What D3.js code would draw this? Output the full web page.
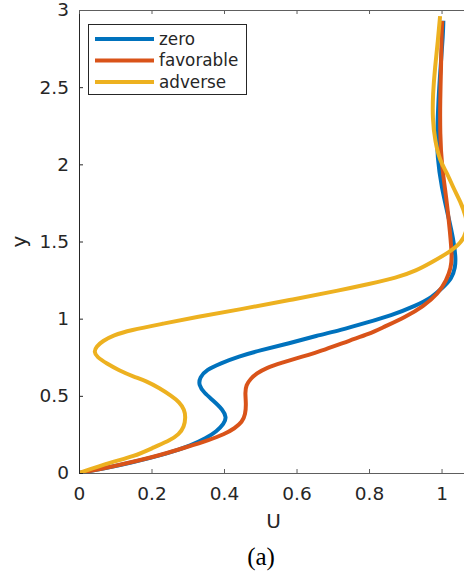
<!DOCTYPE html>
<html>
<head>
<meta charset="utf-8">
<script src="https://cdn.jsdelivr.net/npm/d3@7"></script>
<style>
  html, body { margin: 0; padding: 0; background: #fff; }
  svg { display: block; }
  text { font-family: "DejaVu Sans", sans-serif; fill: #262626; }
</style>
</head>
<body>
<svg id="chart" width="464" height="580"></svg>
<script>
// Velocity profiles U(y) for three pressure-gradient cases, each as [U, y] pairs along the curve
const zeroProfile = [
  [0,0],[0.07,0.03],[0.14,0.065],[0.25,0.13],[0.31,0.18],[0.35,0.225],[0.38,0.27],
  [0.40,0.32],[0.407,0.36],[0.397,0.41],[0.37,0.47],[0.345,0.52],[0.330,0.57],
  [0.333,0.62],[0.352,0.67],[0.39,0.71],[0.44,0.755],[0.5,0.795],[0.58,0.84],
  [0.656,0.89],[0.72,0.925],[0.794,0.975],[0.86,1.02],[0.93,1.085],[0.975,1.14],
  [1.005,1.205],[1.028,1.26],[1.038,1.33],[1.039,1.40],[1.033,1.51],[1.019,1.66],
  [1.0,1.85],[0.988,2.05],[0.988,2.2],[0.991,2.41],[0.998,2.65],[1.004,2.84],[1.005,2.93]
];
const favorableProfile = [
  [0,0],[0.09,0.04],[0.21,0.105],[0.30,0.17],[0.36,0.215],[0.40,0.25],[0.43,0.29],
  [0.45,0.33],[0.459,0.38],[0.461,0.45],[0.458,0.52],[0.461,0.57],[0.473,0.61],
  [0.49,0.645],[0.515,0.68],[0.56,0.715],[0.61,0.75],[0.68,0.80],[0.748,0.86],
  [0.80,0.90],[0.84,0.945],[0.90,1.01],[0.95,1.08],[0.99,1.16],[1.014,1.25],
  [1.026,1.33],[1.029,1.40],[1.024,1.55],[1.014,1.77],[1.0,2.0],[0.996,2.2],
  [0.996,2.41],[0.999,2.65],[1.0,2.84],[1.002,2.93]
];
const adverseProfile = [
  [0,0],[0.09,0.072],[0.15,0.105],[0.21,0.17],[0.25,0.21],[0.276,0.25],[0.290,0.30],
  [0.294,0.36],[0.291,0.41],[0.277,0.46],[0.255,0.50],[0.222,0.55],[0.187,0.595],
  [0.15,0.625],[0.11,0.665],[0.076,0.71],[0.05,0.75],[0.041,0.785],[0.048,0.82],
  [0.065,0.855],[0.095,0.893],[0.14,0.925],[0.233,0.968],[0.325,1.011],[0.444,1.06],
  [0.58,1.12],[0.72,1.184],[0.80,1.225],[0.876,1.265],[0.93,1.31],
  [0.977,1.37],[1.02,1.43],[1.055,1.49],[1.072,1.58],[1.068,1.66],[1.052,1.76],
  [1.032,1.85],[1.014,1.95],[0.996,2.02],[0.982,2.15],[0.975,2.3],[0.976,2.45],
  [0.982,2.63],[0.99,2.8],[0.996,2.96]
];

const seriesNames = ["zero", "favorable", "adverse"];
const seriesColors = ["#0072BD", "#D95319", "#EDB120"];
const seriesData = [zeroProfile, favorableProfile, adverseProfile];

const xTicks = [0, 0.2, 0.4, 0.6, 0.8, 1];
const yTicks = [0, 0.5, 1, 1.5, 2, 2.5, 3];
const xDomain = [0, 1.073];
const yDomain = [0, 3];

const svg = d3.select("#chart");
const plot = { left: 79, right: 468, top: 10, bottom: 473 };

const x = d3.scaleLinear().domain(xDomain).range([plot.left, plot.right]);
const y = d3.scaleLinear().domain(yDomain).range([plot.bottom, plot.top]);

const axisColor = "#262626";
const frameColor = "#5e5e5e";

svg.append("defs").append("clipPath").attr("id", "plot-clip")
  .append("rect")
  .attr("x", plot.left).attr("y", plot.top)
  .attr("width", plot.right - plot.left).attr("height", plot.bottom - plot.top);

// Profiles, smoothed through the sampled points
const line = d3.line()
  .x(d => x(d[0]))
  .y(d => y(d[1]))
  .curve(d3.curveBasis);

const curves = svg.append("g").attr("clip-path", "url(#plot-clip)");
seriesData.forEach((data, i) => {
  curves.append("path")
    .datum(data)
    .attr("d", line)
    .attr("fill", "none")
    .attr("stroke", seriesColors[i])
    .attr("stroke-width", 4)
    .attr("stroke-linejoin", "round");
});

// Axes: ticks point inward, labels on bottom and left only
function styleAxis(color) {
  return g => {
    g.selectAll("path.domain").attr("stroke", color).attr("stroke-width", 1);
    g.selectAll(".tick line").attr("stroke", color).attr("stroke-width", 1);
    g.selectAll(".tick text").attr("fill", axisColor).style("font-size", "18.5px")
      .style("font-family", "'DejaVu Sans', sans-serif");
  };
}

svg.append("g")
  .attr("transform", `translate(0,${plot.bottom})`)
  .call(d3.axisBottom(x).tickValues(xTicks).tickFormat(d3.format("~g"))
    .tickSizeInner(-4).tickSizeOuter(0).tickPadding(14))
  .call(styleAxis(frameColor))
  .call(g => g.selectAll(".tick text").attr("dy", "0.71em"));

svg.append("g")
  .attr("transform", `translate(${plot.left},0)`)
  .call(d3.axisLeft(y).tickValues(yTicks).tickFormat(d3.format("~g"))
    .tickSizeInner(-4).tickSizeOuter(0).tickPadding(10))
  .call(styleAxis(axisColor));

svg.append("g")
  .attr("transform", `translate(0,${plot.top})`)
  .call(d3.axisTop(x).tickValues(xTicks).tickFormat("")
    .tickSizeInner(-4).tickSizeOuter(0))
  .call(styleAxis(frameColor));

svg.append("g")
  .attr("transform", `translate(${plot.right},0)`)
  .call(d3.axisRight(y).tickValues(yTicks).tickFormat("")
    .tickSizeInner(-4).tickSizeOuter(0))
  .call(styleAxis(frameColor));

// Axis titles
svg.append("text")
  .attr("x", (plot.left + plot.right) / 2)
  .attr("y", 528)
  .attr("text-anchor", "middle")
  .style("font-size", "20px")
  .text("U");

svg.append("text")
  .attr("transform", `translate(26,${(plot.top + plot.bottom) / 2}) rotate(-90)`)
  .attr("text-anchor", "middle")
  .style("font-size", "20px")
  .text("y");

// Panel caption
svg.append("text")
  .attr("x", 261)
  .attr("y", 565)
  .attr("text-anchor", "middle")
  .style("font-family", "'Liberation Serif', 'DejaVu Serif', serif")
  .style("font-size", "25px")
  .style("fill", "#000")
  .text("(a)");

// Legend
const legend = svg.append("g");
legend.append("rect")
  .attr("x", 88.5).attr("y", 24.5)
  .attr("width", 158).attr("height", 70)
  .attr("fill", "#fff")
  .attr("stroke", axisColor)
  .attr("stroke-width", 1);

seriesNames.forEach((name, i) => {
  const ly = 39 + i * 21.5;
  legend.append("line")
    .attr("x1", 95).attr("x2", 154)
    .attr("y1", ly).attr("y2", ly)
    .attr("stroke", seriesColors[i])
    .attr("stroke-width", 4);
  legend.append("text")
    .attr("x", 159).attr("y", ly)
    .attr("dy", "0.35em")
    .style("font-size", "16.8px")
    .text(name);
});
</script>
</body>
</html>
